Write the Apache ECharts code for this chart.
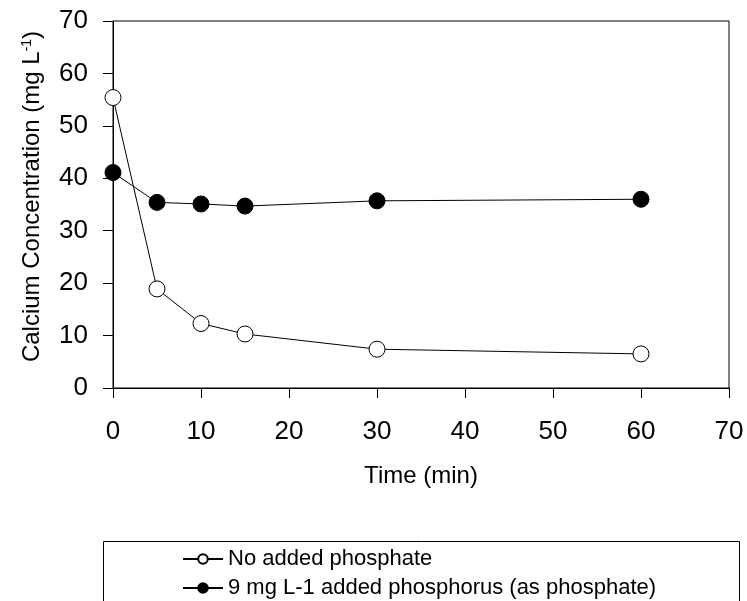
<!DOCTYPE html>
<html>
<head>
<meta charset="utf-8">
<script src="https://cdn.jsdelivr.net/npm/echarts@6/dist/echarts.min.js"></script>
<style>
html,body{margin:0;padding:0;background:#fff;}
#main{width:747px;height:601px;}
</style>
</head>
<body>
<div id="main"></div>
<script>
var timeMin = [0, 5, 10, 15, 30, 60];
var noPhosphate = [55.4, 18.9, 12.3, 10.3, 7.4, 6.5];
var withPhosphorus = [41.1, 35.4, 35.1, 34.7, 35.7, 36.0];
var seriesNames = ['No added phosphate', '9 mg L-1 added phosphorus (as phosphate)'];

function pairs(xs, ys) { return xs.map(function (x, i) { return [x, ys[i]]; }); }

var FONT = 'Liberation Sans, Arial, sans-serif';
var legendText = { fontFamily: FONT, fontSize: 22, color: '#000' };
var chart = echarts.init(document.getElementById('main'));
chart.setOption({
  animation: false,
  backgroundColor: '#fff',
  grid: { left: 113, right: 18, top: 21, bottom: 213, show: true, borderColor: '#000', borderWidth: 1 },
  xAxis: {
    type: 'value', min: 0, max: 70, interval: 10,
    name: 'Time (min)', nameLocation: 'middle', nameGap: 76,
    nameTextStyle: { fontFamily: FONT, fontSize: 24, color: '#000' },
    axisLine: { show: true, lineStyle: { color: '#000', width: 1 } },
    axisTick: { show: true, inside: false, length: 10, lineStyle: { color: '#000' } },
    axisLabel: { fontFamily: FONT, fontSize: 26, color: '#000', margin: 31 },
    splitLine: { show: false }
  },
  yAxis: {
    type: 'value', min: 0, max: 70, interval: 10,
    name: 'Calcium Concentration (mg L{sup|-1})', nameLocation: 'middle', nameGap: 69,
    nameTextStyle: { fontFamily: FONT, fontSize: 24, color: '#000', padding: [0, 0, 0, 16],
      rich: { sup: { fontFamily: FONT, fontSize: 14, color: '#000', verticalAlign: 'top', padding: [0, 0, 10, 0] } } },
    axisLine: { show: true, lineStyle: { color: '#000', width: 1 } },
    axisTick: { show: true, inside: false, length: 10, lineStyle: { color: '#000' } },
    axisLabel: { fontFamily: FONT, fontSize: 26, color: '#000', margin: 25 },
    splitLine: { show: false }
  },
  legend: [
    { left: 182, top: 548, padding: 0, itemWidth: 40, itemHeight: 12, textStyle: legendText, data: [seriesNames[0]] },
    { left: 182, top: 577, padding: 0, itemWidth: 40, itemHeight: 12, textStyle: legendText, data: [seriesNames[1]] }
  ],
  graphic: [{
    type: 'rect', left: 103, top: 541, z: -1,
    shape: { width: 636, height: 100 },
    style: { fill: '#fff', stroke: '#000', lineWidth: 1 }
  }],
  series: [
    {
      name: seriesNames[0], type: 'line', data: pairs(timeMin, noPhosphate),
      symbol: 'circle', symbolSize: 16,
      lineStyle: { color: '#000', width: 1 },
      itemStyle: { color: '#fff', borderColor: '#000', borderWidth: 1 }
    },
    {
      name: seriesNames[1], type: 'line', data: pairs(timeMin, withPhosphorus),
      symbol: 'circle', symbolSize: 16,
      lineStyle: { color: '#000', width: 1 },
      itemStyle: { color: '#000', borderColor: '#000', borderWidth: 1 }
    }
  ]
});
</script>
</body>
</html>
